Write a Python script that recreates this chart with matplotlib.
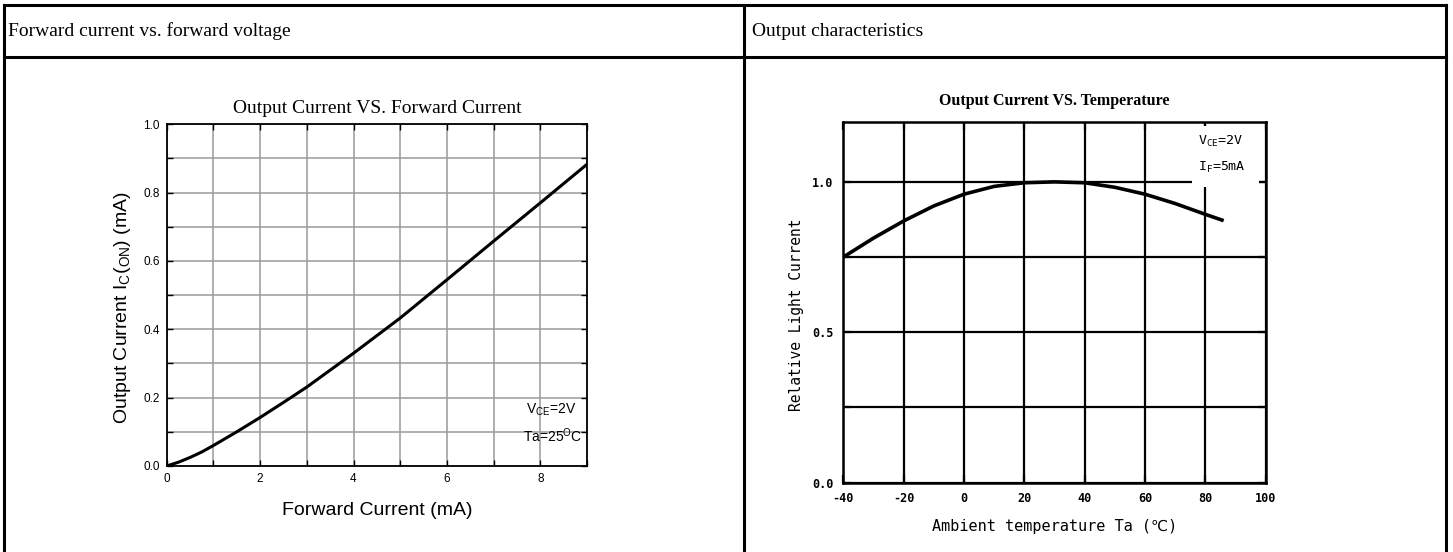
import matplotlib
matplotlib.use("Agg")
import matplotlib.pyplot as plt
from matplotlib.lines import Line2D
from matplotlib.patches import Rectangle
from matplotlib.ticker import MultipleLocator

# Left chart: output current vs forward current
if_ma = [0, 0.25, 0.5, 0.75, 1, 1.5, 2, 2.5, 3, 4, 5, 6, 7, 8, 9]
ic_ma = [0, 0.011, 0.025, 0.041, 0.06, 0.10, 0.142, 0.186, 0.231, 0.330, 0.433, 0.545, 0.658, 0.770, 0.883]

# Right chart: relative light current vs ambient temperature
temp_c = [-40, -30, -20, -10, 0, 10, 20, 30, 40, 50, 60, 70, 80, 85.5]
rel_current = [0.75, 0.813, 0.87, 0.92, 0.959, 0.985, 0.997, 1.0, 0.997, 0.982, 0.959, 0.928, 0.892, 0.873]

header_left = "Forward current vs. forward voltage"
header_right = "Output characteristics"

plt.rcParams["mathtext.default"] = "regular"
plt.rcParams["axes.unicode_minus"] = False

W, H = 1453, 552
fig = plt.figure(figsize=(W / 100, H / 100), dpi=100)


def fx(px):
    return px / W


def fy(py):
    return 1 - py / H


# table lines
for (x0, y0, x1, y1) in [(4, 5, 1446, 5), (4, 57, 1446, 57),
                         (4, 5, 4, 552), (744, 5, 744, 552), (1446, 5, 1446, 552)]:
    fig.add_artist(Line2D([fx(x0), fx(x1)], [fy(y0), fy(y1)], color="black", lw=2.2,
                          solid_capstyle="projecting"))

fig.text(fx(8), fy(31), header_left, family="Liberation Serif", fontsize=14, va="center")
fig.text(fx(752), fy(31), header_right, family="Liberation Serif", fontsize=14, va="center")

# ---- left chart ----
ax1 = fig.add_axes([fx(166.7), fy(466), fx(587) - fx(166.7), fy(124.3) - fy(466)])
ax1.plot(if_ma, ic_ma, color="black", lw=2.2, zorder=3)
ax1.set_xlim(0, 9)
ax1.set_ylim(0, 1.0)
ax1.xaxis.set_major_locator(MultipleLocator(2))
ax1.xaxis.set_minor_locator(MultipleLocator(1))
ax1.yaxis.set_major_locator(MultipleLocator(0.2))
ax1.yaxis.set_minor_locator(MultipleLocator(0.1))
ax1.yaxis.set_major_formatter(plt.FormatStrFormatter("%.1f"))
ax1.grid(True, which="both", color="#9a9a9a", lw=1.1)
ax1.tick_params(which="both", direction="in", top=True, right=True, length=4,
                width=1, labelsize=8.5, pad=5)
for lab in ax1.get_xticklabels() + ax1.get_yticklabels():
    lab.set_family("Liberation Sans")
for s in ax1.spines.values():
    s.set_linewidth(1.3)
ax1.set_title("Output Current VS. Forward Current", family="Liberation Serif",
              fontsize=14, pad=8)
ax1.set_xlabel("Forward Current (mA)", family="Liberation Sans", fontsize=14, labelpad=12)
ax1.set_ylabel("Output Current I$_C$($_{ON}$) (mA)", family="Liberation Sans",
               fontsize=14)
ax1.yaxis.set_label_coords(-0.079, 0.465)
ax1.text(0.975, 0.165, "V$_{CE}$=2V", transform=ax1.transAxes, ha="right", va="center",
         family="Liberation Sans", fontsize=10)
ax1.text(0.99, 0.09, "Ta=25$^{O}$C", transform=ax1.transAxes, ha="right", va="center",
         family="Liberation Sans", fontsize=10)

# ---- right chart ----
ax2 = fig.add_axes([fx(843.3), fy(482.7), fx(1265.7) - fx(843.3), fy(121.7) - fy(482.7)])
ax2.plot(temp_c, rel_current, color="black", lw=2.6, zorder=4)
ax2.set_xlim(-40, 100)
ax2.set_ylim(0, 1.2)
ax2.set_xticks(range(-40, 101, 20))
ax2.set_yticks([0, 0.25, 0.5, 0.75, 1.0])
ax2.set_yticklabels(["0.0", "", "0.5", "", "1.0"])
ax2.grid(True, color="black", lw=1.6)
ax2.tick_params(direction="in", top=True, right=True, length=6, width=1.6,
                labelsize=8.5, pad=7)
mono = ["DejaVu Sans Mono", "DejaVu Sans"]
for lab in ax2.get_xticklabels() + ax2.get_yticklabels():
    lab.set_family(mono)
    lab.set_weight("bold")
for s in ax2.spines.values():
    s.set_linewidth(1.8)
# white patch behind the condition text
ax2.add_patch(Rectangle((75.6, 0.982), 22.2, 0.204, facecolor="white",
                        edgecolor="none", zorder=3))
ax2.text(0.84, 0.944, "V$_{CE}$=2V", transform=ax2.transAxes, ha="left", va="center",
         family=mono, fontsize=9.5, zorder=5)
ax2.text(0.84, 0.874, "I$_F$=5mA", transform=ax2.transAxes, ha="left", va="center",
         family=mono, fontsize=9.5, zorder=5)
ax2.set_title("Output Current VS. Temperature", family="Liberation Serif",
              weight="bold", fontsize=11.5, pad=12)
ax2.set_xlabel("Ambient temperature Ta (℃)", family=mono, fontsize=11, labelpad=10)
ax2.set_ylabel("Relative Light Current", family=mono, fontsize=10.5)
ax2.yaxis.set_label_coords(-0.093, 0.465)

fig.savefig("out.png", dpi=100)
